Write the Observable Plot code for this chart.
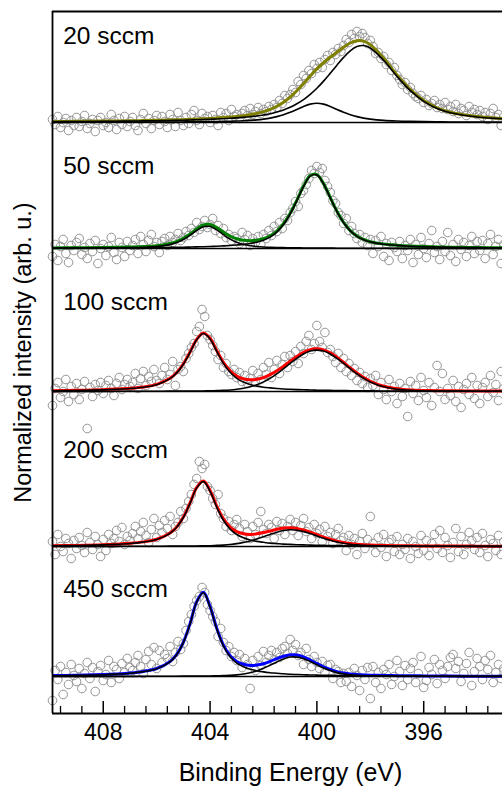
<!DOCTYPE html>
<html><head><meta charset="utf-8">
<script src="https://cdn.jsdelivr.net/npm/d3@7"></script>
<script src="https://cdn.jsdelivr.net/npm/@observablehq/plot@0.6"></script>
<style>html,body{margin:0;padding:0;background:#fff;overflow:hidden}#chart svg{display:block}</style>
</head><body><div id="chart"></div>
<script>
// ---- data ----
const flowRates = ["20 sccm", "50 sccm", "100 sccm", "200 sccm", "450 sccm"];
const envelopeColors = ["#808000", "#008000", "#ff0000", "#ff0000", "#0000ff"];
const baselineOffsets = [591, 465, 322, 167, 37];
const labelLevels = [677, 547, 411, 263, 124];
const majorTicks = [408, 404, 400, 396];
const minorTicks = [409.6, 408.8, 407.2, 406.4, 405.6, 404.8, 403.2, 402.4, 401.6, 400.8, 399.2, 398.4, 397.6, 396.8, 395.2, 394.4, 393.6];

// fitted component curves (binding energy grid, eV)
const fitEnergy = [410, 409, 408, 407.5, 407, 406.5, 406, 405.5,
  405.25, 405, 404.75, 404.5, 404.25, 404, 403.75, 403.5,
  403.25, 403, 402.75, 402.5, 402.25, 402, 401.75, 401.5,
  401.25, 401, 400.75, 400.5, 400.25, 400, 399.75, 399.5,
  399.25, 399, 398.75, 398.5, 398.25, 398, 397.5, 397,
  396.5, 396, 395.5, 395, 394, 393];

const p1PeakA = [0.8, 0.95, 1.15, 1.3, 1.4, 1.6, 1.8, 2.0,
  2.2, 2.3, 2.5, 2.7, 2.9, 3.2, 3.5, 3.8,
  4.2, 4.6, 5.1, 5.7, 6.5, 7.5, 8.7, 10.4,
  12.5, 15.2, 18.7, 22.9, 28.2, 34.3, 41.4, 49.2,
  57.3, 65.1, 71.7, 75.9, 77.0, 74.5, 62.1, 46.0,
  31.8, 21.1, 14.0, 9.7, 5.5, 3.6];
const p1PeakB = [0.15, 0.19, 0.23, 0.26, 0.30, 0.34, 0.40, 0.48,
  0.52, 0.57, 0.63, 0.70, 0.78, 0.87, 0.98, 1.12,
  1.28, 1.49, 1.77, 2.14, 2.66, 3.4, 4.4, 5.85,
  7.8, 10.2, 13.0, 16.0, 18.35, 19.3, 18.35, 16.0,
  13.0, 10.2, 7.8, 5.85, 4.4, 3.4, 2.14, 1.49,
  1.12, 0.87, 0.70, 0.57, 0.40, 0.30];

const p2PeakA = [0.32, 0.4, 0.5, 0.58, 0.66, 0.76, 0.9, 1.1,
  1.2, 1.3, 1.4, 1.6, 1.8, 2.0, 2.3, 2.6,
  3.0, 3.5, 4.1, 5.0, 6.3, 8.3, 11.4, 16.4,
  23.9, 34.5, 47.8, 61.9, 72.4, 73.5, 64.5, 50.7,
  36.9, 25.8, 17.6, 12.2, 8.8, 6.6, 4.3, 3.1,
  2.3, 1.8, 1.5, 1.2, 0.84, 0.62];
const p2PeakB = [0.22, 0.31, 0.48, 0.63, 0.85, 1.2, 1.9, 3.9,
  5.9, 9.0, 13.2, 18.0, 21.7, 22.0, 18.6, 13.8,
  9.4, 6.2, 4.05, 2.8, 2.0, 1.5, 1.2, 1.0,
  0.86, 0.74, 0.64, 0.56, 0.49, 0.43, 0.39, 0.35,
  0.31, 0.28, 0.26, 0.24, 0.22, 0.2, 0.18, 0.15,
  0.13, 0.12, 0.11, 0.1, 0.08, 0.07];

const p3PeakA = [0.7, 1.0, 1.6, 2.2, 3.0, 4.3, 6.8, 12.8,
  18.6, 27.3, 39.1, 51.7, 58.0, 52.5, 40.1, 28.1,
  19.2, 13.2, 9.4, 7.0, 5.4, 4.3, 3.6, 3.0,
  2.5, 2.2, 1.9, 1.7, 1.5, 1.3, 1.2, 1.1,
  1.0, 0.9, 0.8, 0.75, 0.7, 0.6, 0.55, 0.5,
  0.4, 0.35, 0.3, 0.3, 0.25, 0.2];
const p3PeakB = [0.11, 0.14, 0.17, 0.19, 0.22, 0.26, 0.3, 0.35,
  0.38, 0.42, 0.46, 0.5, 0.57, 0.7, 0.9, 1.1,
  1.5, 2.2, 3.2, 4.7, 6.8, 9.6, 13.3, 17.7,
  22.8, 28.1, 33.2, 37.5, 40.4, 41.4, 40.4, 37.5,
  33.2, 28.1, 22.8, 17.7, 13.3, 9.6, 4.7, 2.2,
  1.1, 0.7, 0.5, 0.4, 0.3, 0.2];

const p4PeakA = [0.7, 1.0, 1.6, 2.2, 3.0, 4.4, 7.0, 13.1,
  19.2, 29.0, 43.1, 58.6, 64.9, 55.2, 39.3, 26.2,
  17.4, 12.0, 8.7, 6.5, 5.1, 4.2, 3.4, 2.9,
  2.4, 2.1, 1.8, 1.6, 1.4, 1.2, 1.1, 1.0,
  0.9, 0.8, 0.75, 0.7, 0.6, 0.55, 0.5, 0.4,
  0.35, 0.3, 0.3, 0.25, 0.2, 0.15];
const p4PeakB = [0.1, 0.12, 0.14, 0.17, 0.19, 0.22, 0.27, 0.33,
  0.36, 0.4, 0.46, 0.52, 0.65, 0.8, 1.1, 1.4,
  2.0, 2.9, 4.1, 5.6, 7.6, 9.8, 12.1, 14.3,
  16.0, 16.7, 16.3, 14.9, 12.9, 10.6, 8.3, 6.2,
  4.5, 3.2, 2.3, 1.6, 1.2, 0.9, 0.57, 0.42,
  0.34, 0.28, 0.23, 0.2, 0.15, 0.12];

const p5PeakA = [0.8, 1.1, 1.8, 2.4, 3.3, 4.9, 7.8, 14.6,
  21.8, 33.9, 52.5, 74.5, 83.8, 69.5, 47.5, 30.5,
  19.7, 13.4, 9.7, 7.3, 5.8, 4.6, 3.8, 3.3,
  2.7, 2.3, 2.0, 1.8, 1.5, 1.4, 1.2, 1.1,
  1.0, 0.9, 0.8, 0.75, 0.7, 0.65, 0.55, 0.5,
  0.4, 0.35, 0.3, 0.3, 0.2, 0.2];
const p5PeakB = [0.07, 0.1, 0.11, 0.13, 0.15, 0.18, 0.2, 0.26,
  0.3, 0.33, 0.4, 0.4, 0.5, 0.55, 0.65, 0.85,
  1.1, 1.6, 2.5, 3.7, 5.6, 8.2, 11.3, 14.6,
  17.5, 19.5, 19.4, 17.8, 15.0, 11.7, 8.5, 5.9,
  3.9, 2.6, 1.7, 1.2, 0.9, 0.7, 0.5, 0.37,
  0.3, 0.25, 0.2, 0.17, 0.12, 0.1];

// measured spectra: 0.1 eV steps from 409.9 eV down to 393.0 eV
const scanStart = 409.9, scanStep = 0.1;
const p1Counts = [
  3, -2, 6, -5, 0, 4, -8, 2, -3, 5,
  -4, 1, 7, -6, -1, 3, -9, 2, 5, -3,
  0, -5, 8, 2, -7, 4, -2, 6, -4, 1,
  5, -3, -8, 3, 9, -1, 4, -6, 2, 7,
  -2, 6, 1, -5, 8, 3, -4, 10, 2, -3,
  5, -1, 8, 12, 2, -2, 9, 4, 6, 0,
  7, 3, -3, 10, 5, 9, 2, 13, 6, 8,
  4, 9, 12, 7, 14, 8, 11, 15, 9, 13,
  11, 16, 13, 18, 15, 22, 19, 27, 24, 28,
  33, 30, 41, 38, 47, 44, 52, 49, 58, 54,
  60, 55, 63, 67, 62, 70, 68, 74, 71, 77,
  83, 80, 88, 84, 91, 86, 89, 85, 79, 82,
  76, 69, 70, 64, 66, 58, 60, 52, 55, 47,
  43, 38, 40, 33, 35, 29, 26, 24, 27, 20,
  23, 17, 19, 22, 15, 18, 14, 20, 13, 16,
  11, 18, 9, 14, 12, 7, 16, 10, 13, 8,
  12, 6, 10, 3, 9, 14, 5, 8, -3, 6];
const p2Counts = [
  -8, 4, -12, 2, 9, -5, -14, 3, -2, 6,
  10, -6, 1, -10, 5, -3, 8, -15, 0, 4,
  -7, 2, 11, -4, -11, 6, 1, -8, 7, -2,
  3, 9, -5, 12, 4, -3, 8, 14, 2, 6,
  -4, 7, 10, 3, 12, 6, 9, 15, 8, 11,
  17, 13, 20, 16, 26, 19, 22, 28, 21, 24,
  30, 18, 23, 15, 20, 11, 14, 8, 12, 10,
  5, 16, 9, 13, 3, 10, 6, 12, 4, 14,
  10, 18, 13, 22, 17, 26, 20, 30, 28, 36,
  40, 47, 42, 55, 58, 64, 70, 78, 75, 82,
  76, 80, 68, 62, 56, 48, 45, 36, 33, 25,
  30, 18, 22, 15, 10, 14, 6, 11, 3, 9,
  -5, 8, 2, 12, -8, 5, -12, 6, 1, -3,
  7, -10, 3, -2, 9, -14, 4, -6, 11, 0,
  -9, 5, 18, -4, 2, -11, 7, -3, 16, -7,
  4, -13, 9, -1, 6, -8, 3, 12, -5, 7,
  -2, 8, -10, 5, 14, -6, 2, 9, -15, 4];
const p3Counts = [
  -14, 3, 9, -6, 0, 12, -10, 5, -3, 8,
  -8, 2, 10, -37, 4, -5, 7, 1, 9, -2,
  6, 11, 3, -4, 8, 14, 2, 7, 12, 5,
  9, 18, 3, 13, 20, 6, 15, 10, 22, 11,
  8, 16, 24, 12, 17, 30, 6, 22, 25, 20,
  33, 38, 44, 48, 60, 65, 82, 75, 56, 52,
  46, 40, 32, 36, 24, 28, 20, 17, 22, 14,
  19, 10, 16, 8, 13, 21, 9, 18, 12, 24,
  17, 29, 14, 22, 31, 18, 27, 35, 24, 36,
  30, 40, 28, 45, 38, 50, 56, 42, 48, 66,
  50, 44, 59, 39, 42, 35, 29, 38, 24, 33,
  20, 28, 16, 23, 11, 19, 8, 15, 4, 13,
  6, 16, -3, 9, 2, -8, 12, 0, 5, -12,
  8, -5, 3, -25, 10, -2, 6, -9, 14, 1,
  -6, 9, -14, 4, 26, 0, 18, -8, 3, -4,
  11, -10, 5, -16, 2, 8, -3, 14, -7, 6,
  -12, 4, 9, -5, 16, -1, 7, -9, 20, 3];
const p4Counts = [
  5, -8, 12, 0, -5, 8, 3, -12, 6, -2,
  9, 1, -6, 14, 4, -3, 10, 2, -10, 7,
  -4, 12, 3, 8, 16, 5, 19, 2, 10, 6,
  13, 20, 8, 15, 24, 11, 4, 17, 28, 9,
  21, 14, 26, 18, 30, 12, 20, 24, 35, 28,
  38, 45, 52, 62, 68, 85, 78, 82, 60, 56,
  48, 42, 52, 33, 28, 20, 25, 16, 22, 27,
  18, 10, 22, 15, 8, 20, 12, 24, 35, 17,
  13, 22, 19, 8, 25, 16, 23, 12, 20, 27,
  16, 24, 11, 21, 28, 15, 19, 8, 22, 13,
  17, 5, 20, 10, 14, 3, 12, 18, 6, 9,
  -4, 11, 2, 8, -8, 5, 13, -2, 7, 30,
  3, -6, 9, -1, 12, -10, 4, 7, -5, 10,
  -8, 2, -3, 8, -12, 5, 0, -7, 11, -4,
  6, -9, 3, 12, -2, 16, -6, 9, 1, -11,
  4, 18, -5, 10, -8, 2, 14, 6, -3, 9,
  -6, 13, 1, -10, 7, 3, -4, 11, -8, 5];
const p5Counts = [
  -24, 6, -3, 10, -18, 4, -8, 12, 1, -5,
  8, -12, 3, 14, -2, 9, -15, 5, 11, -4,
  2, 16, -6, 10, 7, -2, 13, 4, 18, 9,
  6, 14, 21, 10, 3, 17, 25, 12, 29, 8,
  26, 14, 22, 18, 30, 15, 24, 35, 27, 33,
  46, 55, 62, 70, 76, 80, 89, 84, 72, 66,
  60, 55, 40, 48, 34, 26, 30, 20, 24, 16,
  22, 9, 18, 12, -12, 16, 6, 20, 11, 25,
  14, 21, 26, 17, 24, 19, 28, 30, 23, 37,
  26, 32, 21, 24, 12, 28, 17, 10, 20, 14,
  8, 15, 4, 11, 12, -2, 7, 5, -6, 3,
  -5, 4, -10, 8, 1, -14, 6, -3, 9, -22,
  10, -6, 4, -12, 7, 2, 12, -8, 0, 16,
  5, -9, 11, -3, 8, 14, -6, 3, 20, -11,
  -4, 9, 2, 17, -7, 12, 6, -2, 10, 19,
  22, 8, 15, -5, 3, 13, 24, -9, 5, 18,
  10, -3, 16, 7, 21, -6, 4, 12, -2, 8];

// ---- assemble tables ----
const peakAs = [p1PeakA, p2PeakA, p3PeakA, p4PeakA, p5PeakA];
const peakBs = [p1PeakB, p2PeakB, p3PeakB, p4PeakB, p5PeakB];
const countSets = [p1Counts, p2Counts, p3Counts, p4Counts, p5Counts];

const fitRows = flowRates.flatMap((label, k) => fitEnergy.map((E, i) => ({
  k, E,
  a: baselineOffsets[k] + peakAs[k][i],
  b: baselineOffsets[k] + peakBs[k][i],
  env: baselineOffsets[k] + peakAs[k][i] + peakBs[k][i],
  color: envelopeColors[k]
})));
const pointRows = flowRates.flatMap((label, k) => countSets[k].map((c, i) => ({
  k, E: +(scanStart - i * scanStep).toFixed(2), y: baselineOffsets[k] + c
})));
const labelRows = flowRates.map((label, k) => ({label, y: labelLevels[k]}));

const FONT = "'Liberation Sans', Arial, Helvetica, sans-serif";
const xLeft = 409.9, xRight = 393.05, yTop = 702;

const chart = Plot.plot({
  width: 502, height: 789,
  marginLeft: 52, marginRight: 0, marginTop: 11, marginBottom: 76,
  x: {domain: [xLeft, xRight], axis: null},
  y: {domain: [0, yTop], axis: null},
  color: {type: "identity"},
  style: {fontFamily: FONT, background: "white", color: "black"},
  marks: [
    Plot.dot(pointRows, {x: "E", y: "y", r: 4.3, stroke: "#939393", strokeWidth: 1, fill: "none"}),
    Plot.ruleY(baselineOffsets, {x1: xLeft, x2: xRight, stroke: "black", strokeWidth: 1.5}),
    Plot.line(fitRows, {x: "E", y: "env", z: "k", stroke: "color", strokeWidth: 3, curve: "catmull-rom", clip: true}),
    Plot.line(fitRows, {x: "E", y: "a", z: "k", stroke: "black", strokeWidth: 1.6, curve: "catmull-rom", clip: true}),
    Plot.line(fitRows, {x: "E", y: "b", z: "k", stroke: "black", strokeWidth: 1.6, curve: "catmull-rom", clip: true}),
    // frame
    Plot.ruleX([xLeft], {y1: 0, y2: yTop, stroke: "black", strokeWidth: 1.8}),
    Plot.ruleY([0, yTop], {x1: xLeft, x2: xRight, stroke: "black", strokeWidth: 1.8}),
    // ticks (inward)
    Plot.ruleX(majorTicks, {x: d => d, y1: 0, y2: 12, stroke: "black", strokeWidth: 1.5}),
    Plot.ruleX(minorTicks, {x: d => d, y1: 0, y2: 7, stroke: "black", strokeWidth: 1.3}),
    Plot.text(majorTicks, {x: d => d, frameAnchor: "bottom", dy: 19, text: d => String(d), fontSize: 23, lineAnchor: "middle", fill: "black"}),
    Plot.text(["Binding Energy (eV)"], {frameAnchor: "bottom", dx: 13, dy: 59, text: d => d, fontSize: 25, lineAnchor: "middle", fill: "black"}),
    Plot.text(["Normalized intensity (arb. u.)"], {x: () => 411.0, y: () => 361, rotate: -90, text: d => d, fontSize: 23.5, textAnchor: "middle", lineAnchor: "middle", fill: "black"}),
    Plot.text(labelRows, {x: () => 409.5, y: "y", text: "label", textAnchor: "start", lineAnchor: "middle", fontSize: 24.5, fill: "black"})
  ]
});
document.getElementById("chart").appendChild(chart);
</script>
</body></html>
